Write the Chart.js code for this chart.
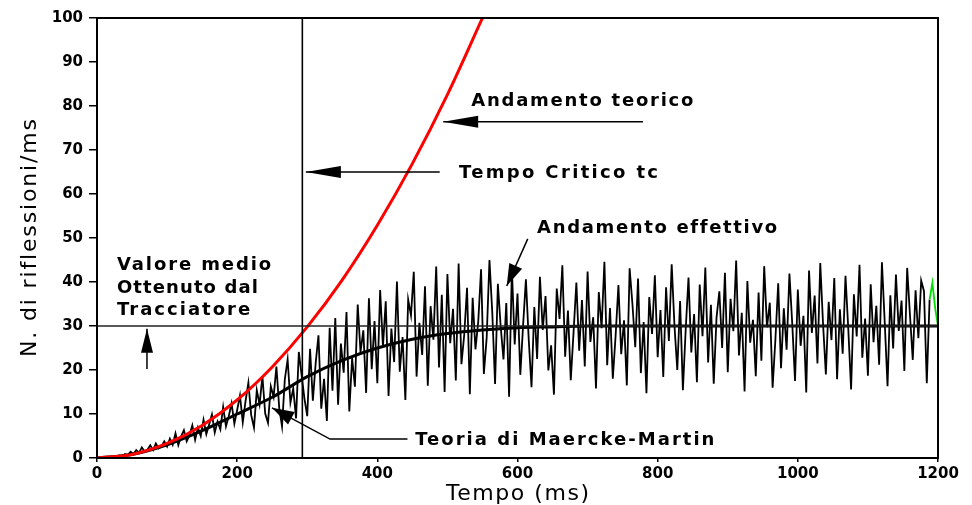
<!DOCTYPE html>
<html>
<head>
<meta charset="utf-8">
<script src="https://cdn.jsdelivr.net/npm/chart.js@4/dist/chart.umd.min.js"></script>
<style>
  body { margin: 0; background: #fff; }
  #wrap { width: 972px; height: 505px; }
</style>
</head>
<body>
<div id="wrap"><canvas id="grafico" width="972" height="505"></canvas></div>
<script>
// ===== DATI =====
// andamento teorico (curva rossa)
const tempoTeorico = [0, 50, 100, 150, 200, 250, 300, 350, 400, 450, 500, 550];
const teorico = [0, 0.8, 3.3, 7.4, 13.2, 20.7, 29.8, 40.5, 52.9, 66.9, 82.6, 100];

// teoria di Maercke-Martin (curva nera spessa)
const tempoMM = [0, 50, 100, 150, 200, 250, 300, 350, 400, 450, 500, 550, 600, 650, 700, 800, 1200];
const maerckeMartin = [0, 0.8, 3.0, 6.2, 10, 13.8, 18.5, 22.2, 25, 27, 28.3, 29.1, 29.6, 29.8, 30, 30, 30];

// andamento effettivo, un campione ogni 4 ms
const passoEffettivo = 4;
const effettivo = [
  0, 0, 0, 0, 0, 0.1, 0.3, 0.2, 0.6, 0.4, 0.9, 0.7, 1.4, 0.9, 1.8, 1.2, 2.4, 1.5, 1.9, 2.9, 1.8, 3.3, 2.2, 2.7, 3.8,
  2.6, 4.4, 3.0, 5.6, 2.9, 4.9, 6.3, 3.8, 5.2, 7.4, 4.1, 6.9, 5.0, 8.7, 5.4, 7.6, 9.9, 5.8, 8.3, 6.5, 11.6, 7.2, 9.5, 12.4, 7.8,
  10.9, 14.2, 8.1, 13.0, 17.1, 9.8, 6.9, 15.4, 12.2, 18.6, 10.1, 8.0, 16.3, 13.9, 20.8, 11.4, 7.2, 17.9, 22.4, 12.6, 15.8, 9.0, 24.1, 18.8, 13.5,
  9.5, 24.8, 13.0, 21.5, 27.9, 11.2, 18.0, 8.4, 29.6, 15.3, 31.8, 12.1, 26.0, 19.4, 33.2, 10.6, 22.7, 16.2, 34.9, 24.1, 29.0, 14.8, 36.3, 20.2, 31.1,
  17.0, 38.2, 25.3, 35.6, 14.1, 29.4, 21.8, 40.1, 19.6, 27.5, 13.2, 36.0, 32.4, 42.3, 18.5, 30.7, 23.4, 39.0, 16.4, 34.5, 26.9, 43.5, 20.6, 37.1, 15.0,
  41.8, 26.1, 33.9, 17.6, 44.2, 21.3, 28.0, 38.7, 14.5, 36.4, 24.7, 31.0, 42.9, 19.1, 27.3, 45.0, 33.1, 16.8, 39.6, 29.9, 22.4, 35.2, 13.9, 43.0, 25.8,
  37.4, 18.9, 30.2, 40.6, 27.0, 16.1, 34.3, 22.5, 41.2, 29.1, 36.8, 19.9, 25.6, 14.4, 38.5, 31.6, 43.8, 23.0, 33.5, 17.7, 28.6, 39.9, 24.4, 35.9, 20.8,
  42.4, 26.4, 32.0, 15.8, 37.7, 29.5, 44.6, 21.1, 34.1, 18.0, 27.8, 39.3, 23.6, 31.3, 16.5, 43.1, 35.0, 25.2, 40.8, 19.3, 30.9, 14.7, 36.6, 28.2, 41.5,
  22.9, 33.6, 18.4, 38.8, 26.6, 44.0, 30.0, 20.0, 35.7, 15.4, 29.2, 41.0, 24.0, 32.7, 17.2, 39.4, 27.7, 43.3, 21.7, 34.8, 16.9, 31.9, 37.9, 25.0, 42.1,
  19.5, 36.2, 28.8, 44.9, 23.3, 33.0, 15.1, 40.2, 26.2, 31.4, 18.6, 37.6, 22.1, 43.6, 29.7, 35.3, 16.0, 27.0, 39.7, 20.4, 34.0, 24.6, 41.9, 30.6, 17.5,
  38.3, 25.5, 32.3, 14.9, 42.6, 28.4, 36.9, 21.5, 44.3, 30.4, 19.0, 35.5, 26.8, 40.9, 17.9, 33.8, 23.7, 41.4, 29.3, 15.6, 37.2, 27.6, 43.9, 22.8, 31.7,
  18.7, 39.5, 26.3, 34.6, 21.2, 44.5, 30.8, 16.3, 37.0, 24.9, 41.7, 28.9, 35.8, 19.8, 43.2, 32.5, 22.3, 38.1, 27.2, 40.3, 37.9, 17.0, 36.0, 39.8, 34.0, 30.0
];
const inizioVerde = 1188;   // ultimo tratto disegnato in verde

// valore medio del tracciatore e tempo critico
const valoreMedio = 30;
const tempoCritico = 293;

// assi
const asseX = { min: 0, max: 1200, passo: 200 };
const asseY = { min: 0, max: 100, passo: 10 };

// ===== PLUGIN: cornice, scritte e frecce =====
const FONT = '"DejaVu Sans", sans-serif';

function testoLargo(ctx, testo, x, y, larghezza) {
  ctx.letterSpacing = '0px';
  const w = ctx.measureText(testo).width;
  const sp = Math.max(0, (larghezza - w) / (testo.length - 1));
  ctx.letterSpacing = sp + 'px';
  ctx.fillText(testo, x, y);
  ctx.letterSpacing = '0px';
}

function freccia(ctx, punti, lung, semi) {
  ctx.beginPath();
  ctx.moveTo(punti[0][0], punti[0][1]);
  for (let i = 1; i < punti.length; i++) ctx.lineTo(punti[i][0], punti[i][1]);
  ctx.stroke();
  const [x1, y1] = punti[punti.length - 2];
  const [x2, y2] = punti[punti.length - 1];
  const a = Math.atan2(y2 - y1, x2 - x1);
  const bx = x2 - lung * Math.cos(a), by = y2 - lung * Math.sin(a);
  ctx.beginPath();
  ctx.moveTo(x2, y2);
  ctx.lineTo(bx + semi * Math.sin(a), by - semi * Math.cos(a));
  ctx.lineTo(bx - semi * Math.sin(a), by + semi * Math.cos(a));
  ctx.closePath();
  ctx.fill();
}

const annotazioni = {
  id: 'annotazioni',
  afterDatasetsDraw(chart) {
    const ctx = chart.ctx;
    const xs = chart.scales.x, ys = chart.scales.y;
    const a = chart.chartArea;
    const P = (x, y) => [xs.getPixelForValue(x), ys.getPixelForValue(y)];
    ctx.save();

    // cornice
    ctx.strokeStyle = '#000';
    ctx.lineWidth = 2;
    ctx.strokeRect(a.left, a.top, a.right - a.left, a.bottom - a.top);

    // scritte
    ctx.fillStyle = '#000';
    ctx.textBaseline = 'middle';
    ctx.textAlign = 'left';
    ctx.font = 'bold 18px ' + FONT;
    const scritte = [
      ['Andamento teorico', 534, 81, 317],
      ['Tempo Critico tc', 516.5, 64.8, 284],
      ['Andamento effettivo', 628, 52.3, 341],
      ['Valore medio', 28.5, 43.9, 220],
      ['Ottenuto dal', 28.5, 38.6, 201],
      ['Tracciatore', 28.5, 33.6, 190],
      ['Teoria di Maercke-Martin', 454, 4.1, 427]
    ];
    scritte.forEach(s => {
      const [x, y] = P(s[1], s[2]);
      const w = xs.getPixelForValue(s[1] + s[3]) - x;
      testoLargo(ctx, s[0], x, y, w);
    });

    // frecce
    ctx.lineWidth = 1.5;
    freccia(ctx, [P(779, 76.4), P(494, 76.4)], 35, 6);
    freccia(ctx, [P(489, 65), P(298, 65)], 35, 6);
    freccia(ctx, [P(614.6, 49.8), P(584.6, 39.1)], 22, 7);
    freccia(ctx, [P(71.3, 20.2), P(71.3, 29.4)], 24, 6);
    freccia(ctx, [P(443, 4.3), P(332.5, 4.3), P(249.7, 11.4)], 22, 7);

    // titoli degli assi
    ctx.font = '22px ' + FONT;
    ctx.save();
    ctx.translate(a.left - 67, (a.top + a.bottom) / 2);
    ctx.rotate(-Math.PI / 2);
    const wy = 238;
    testoLargo(ctx, 'N. di riflessioni/ms', -wy / 2, 0, wy);
    ctx.restore();

    const wx = 143;
    testoLargo(ctx, 'Tempo (ms)', (a.left + a.right) / 2 - wx / 2, a.bottom + 36, wx);

    ctx.restore();
  }
};

// ===== GRAFICO =====
const puntiEffettivo = effettivo.map((v, i) => ({ x: i * passoEffettivo, y: v }));

new Chart(document.getElementById('grafico'), {
  type: 'line',
  data: {
    datasets: [
      {
        label: 'Valore medio',
        data: [{ x: asseX.min, y: valoreMedio }, { x: asseX.max, y: valoreMedio }],
        borderColor: '#222', borderWidth: 1.6, pointRadius: 0
      },
      {
        label: 'Tempo critico',
        data: [{ x: tempoCritico, y: asseY.min }, { x: tempoCritico, y: asseY.max }],
        borderColor: '#000', borderWidth: 1.6, pointRadius: 0
      },
      {
        label: 'Andamento teorico',
        data: tempoTeorico.map((t, i) => ({ x: t, y: teorico[i] })),
        borderColor: '#ff0000', borderWidth: 3, pointRadius: 0,
        cubicInterpolationMode: 'monotone'
      },
      {
        label: 'Andamento effettivo',
        data: puntiEffettivo,
        borderColor: '#000', borderWidth: 1.8, pointRadius: 0, tension: 0,
        segment: { borderColor: c => c.p0.parsed.x >= inizioVerde ? '#00dd00' : '#000' }
      },
      {
        label: 'Teoria di Maercke-Martin',
        data: tempoMM.map((t, i) => ({ x: t, y: maerckeMartin[i] })),
        borderColor: '#000', borderWidth: 3, pointRadius: 0,
        cubicInterpolationMode: 'monotone'
      }
    ]
  },
  options: {
    responsive: false,
    animation: false,
    layout: { padding: { top: 18, right: 34, left: 0, bottom: 0 } },
    plugins: { legend: { display: false }, tooltip: { enabled: false } },
    scales: {
      x: {
        type: 'linear', min: asseX.min, max: asseX.max,
        afterFit: s => { s.height = 47; },
        border: { display: true, color: '#000', width: 2 },
        grid: { drawOnChartArea: false, drawTicks: true, tickLength: 4, color: '#000', lineWidth: 1.5 },
        ticks: { stepSize: asseX.passo, color: '#000', padding: 3, maxRotation: 0,
                 callback: v => String(v),
                 font: { family: FONT, size: 15, weight: 'bold' } }
      },
      y: {
        min: asseY.min, max: asseY.max,
        afterFit: s => { s.width = 97; },
        border: { display: true, color: '#000', width: 2 },
        grid: { drawOnChartArea: false, drawTicks: true, tickLength: 8, color: '#000', lineWidth: 1.5 },
        ticks: { stepSize: asseY.passo, color: '#000', padding: 6,
                 callback: v => String(v),
                 font: { family: FONT, size: 15, weight: 'bold' } }
      }
    }
  },
  plugins: [annotazioni]
});
</script>
</body>
</html>
